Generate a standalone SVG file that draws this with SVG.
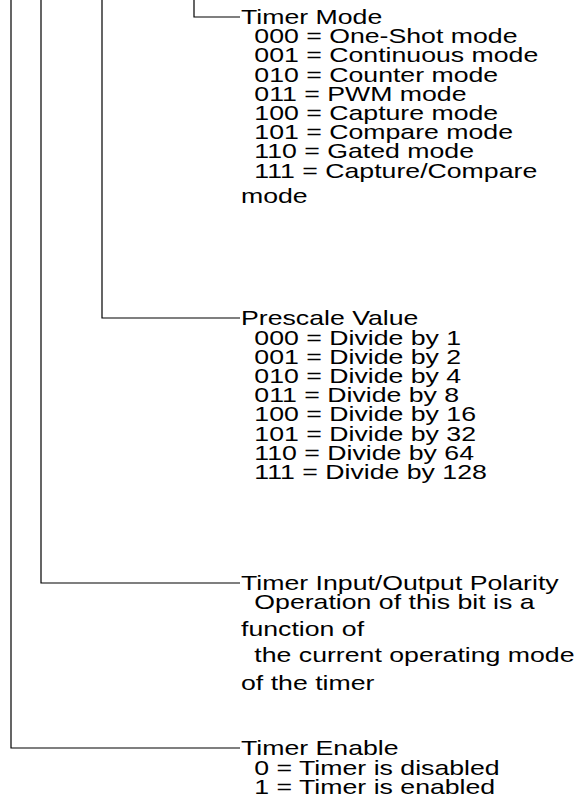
<svg xmlns="http://www.w3.org/2000/svg" width="587" height="808" viewBox="0 0 587 808">
<style>
  .ln { fill: none; stroke: #000; stroke-width: 1.2; }
  text { font-family: "Liberation Sans", Arial, sans-serif; font-size: 21px; fill: #000; }
</style>
<rect width="587" height="808" fill="#fff"/>
<g id="connectors">
  <path class="ln" d="M194,0 V17 H240"/>
  <path class="ln" d="M102,0 V318 H240"/>
  <path class="ln" d="M41,0 V583 H240"/>
  <path class="ln" d="M11,0 V748 H240"/>
</g>
<g id="timer-mode" transform="translate(241 0) scale(1.27 1)">
  <text x="0" y="24">Timer Mode</text>
  <text x="10.5" y="43.2">000 = One-Shot mode</text>
  <text x="10.5" y="62.4">001 = Continuous mode</text>
  <text x="10.5" y="81.6">010 = Counter mode</text>
  <text x="10.5" y="100.8">011 = PWM mode</text>
  <text x="10.5" y="120">100 = Capture mode</text>
  <text x="10.5" y="139.2">101 = Compare mode</text>
  <text x="10.5" y="158.4">110 = Gated mode</text>
  <text x="10.5" y="177.6">111 = Capture/Compare</text>
  <text x="0" y="203.5">mode</text>
</g>
<g id="prescale-value" transform="translate(241 0) scale(1.27 1)">
  <text x="0" y="325.5">Prescale Value</text>
  <text x="10.5" y="344.7">000 = Divide by 1</text>
  <text x="10.5" y="363.9">001 = Divide by 2</text>
  <text x="10.5" y="383.1">010 = Divide by 4</text>
  <text x="10.5" y="402.3">011 = Divide by 8</text>
  <text x="10.5" y="421.5">100 = Divide by 16</text>
  <text x="10.5" y="440.7">101 = Divide by 32</text>
  <text x="10.5" y="459.9">110 = Divide by 64</text>
  <text x="10.5" y="479.1">111 = Divide by 128</text>
</g>
<g id="polarity" transform="translate(241 0) scale(1.27 1)">
  <text x="0" y="590.5">Timer Input/Output Polarity</text>
  <text x="10.5" y="609.5">Operation of this bit is a</text>
  <text x="0" y="636.5">function of</text>
  <text x="10.5" y="662.5">the current operating mode</text>
  <text x="0" y="690">of the timer</text>
</g>
<g id="timer-enable" transform="translate(241 0) scale(1.27 1)">
  <text x="0" y="755.5">Timer Enable</text>
  <text x="10.5" y="775">0 = Timer is disabled</text>
  <text x="10.5" y="794.5">1 = Timer is enabled</text>
</g>
</svg>
